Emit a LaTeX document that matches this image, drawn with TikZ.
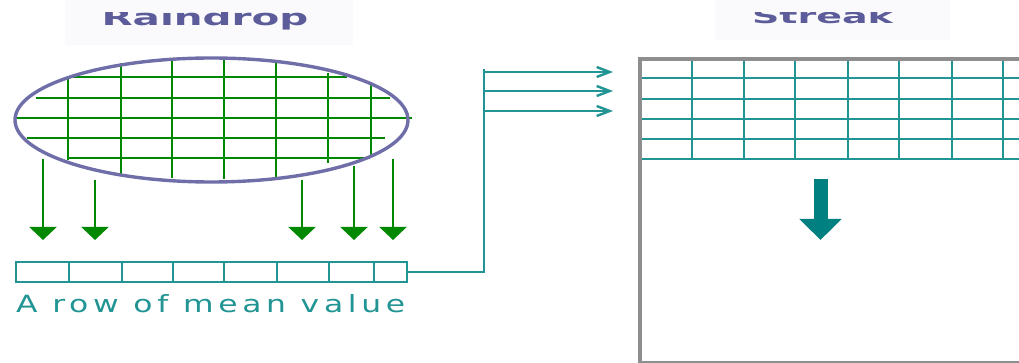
\documentclass[tikz,border=0pt]{standalone}
\usepackage{fontspec}
\usepackage{graphicx}
\usetikzlibrary{arrows.meta,shapes.geometric}

\newfontfamily\headfont{DejaVu Sans}
\newfontfamily\capfont[LetterSpace=15]{DejaVu Sans}

\definecolor{titleink}{HTML}{5C5C9A}
\definecolor{titlebg}{HTML}{FAFAFC}
\definecolor{dropedge}{HTML}{706EA8}
\definecolor{dropgreen}{HTML}{008800}
\definecolor{cellteal}{HTML}{229494}
\definecolor{arrowteal}{HTML}{008080}
\definecolor{framegray}{HTML}{8E8E8E}

\begin{document}
\begin{tikzpicture}[x=1pt,y=-1pt,
  heading/.style={anchor=base,inner sep=0pt,text=titleink,
    font=\headfont\bfseries\fontsize{22}{22}\selectfont},
  gridh/.style={draw=dropgreen,line width=2pt},
  gridv/.style={draw=dropgreen,line width=2.6pt},
  drip/.style={draw=dropgreen,line width=2.4pt,
    -{Triangle[width=27pt,length=13pt]}},
  cellline/.style={draw=cellteal,line width=2.6pt},
  feed/.style={draw=cellteal,line width=2.4pt,
    -{Straight Barb[length=13pt,width=10pt]}},
  streakgrid/.style={draw=cellteal,line width=2.4pt}]
\useasboundingbox (0,0) rectangle (1019,363);

% faint panels behind the headings
\fill[titlebg] (65,0) rectangle (353,45);
\fill[titlebg] (715,0) rectangle (950,40);

% headings, cut off along their top edge
\begin{scope}
  \clip (0,13) rectangle (1019,363);
  \node[heading] (raindrop) at (205,26) {\scalebox{1.84}[1]{Raindrop}};
  \node[heading,font=\headfont\bfseries\fontsize{20}{20}\selectfont]
    (streak) at (822.5,24) {\scalebox{1.9}[1]{Streak}};
\end{scope}

% green mesh over the drop
\foreach \y/\a/\b in {77/68/347, 98/36/390, 118/15/412, 138/27/385, 158/68/370}
  \draw[gridh] (\a,\y) -- (\b,\y);
\foreach \x/\a/\b in {68/77/160, 121/63/175, 172/58/178, 224/58/179,
                      276/60/180, 328/73/163, 371/82/155}
  \draw[gridv] (\x,\a) -- (\x,\b);

% the drop outline
\node[ellipse,draw=dropedge,line width=3.4pt,inner sep=0pt,
      minimum width=393,minimum height=124] (drop) at (211.5,120) {};

% row of mean values
\node[draw=cellteal,line width=2.6pt,inner sep=0pt,
      minimum width=391,minimum height=20] (row) at (211.5,272) {};
\foreach \x in {69,122,173,224,277,329,374}
  \draw[cellline] (\x,262) -- (\x,282);

% columns falling from the drop onto the row
\foreach \x/\s in {43/159, 95/180, 302/180, 354/166, 393/159}
  \draw[drip] (\x,\s) -- (\x,240);

\node[anchor=base west,inner sep=0pt,text=cellteal] (caption) at (16,312)
  {\resizebox{389pt}{18pt}{\capfont\fontsize{24}{24}\selectfont A row of mean value}};

% feeding the row into the streak
\coordinate (bustop) at (484,69);
\draw[cellline] (row.east) -| (bustop);
\foreach \y in {72,91,111}
  \draw[feed] (484,\y) -- (613,\y);

% streak grid
\foreach \y in {78,99,119,139,159}
  \draw[streakgrid] (640,\y) -- (1025,\y);
\foreach \x in {692,744,795,848,899,952,1003}
  \draw[streakgrid,line width=2.8pt] (\x,57) -- (\x,159);

% streak frame
\node[draw=framegray,line width=4pt,inner sep=0pt,anchor=north west,
      minimum width=500,minimum height=304] (streakbox) at (638,57) {};

% downward shift arrow
\draw[draw=arrowteal,line width=14pt,-{Triangle[width=41pt,length=21pt]}]
  (820.5,179) -- (820.5,240);
\end{tikzpicture}
\end{document}
